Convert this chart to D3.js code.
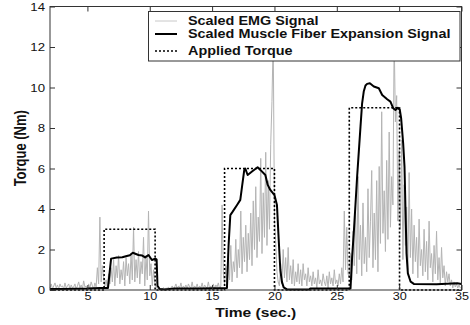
<!DOCTYPE html>
<html>
<head>
<meta charset="utf-8">
<script src="https://cdn.jsdelivr.net/npm/d3@7"></script>
<style>
  body { margin: 0; background: #fff; }
  svg { display: block; }
  text { font-family: "Liberation Sans", Arial, sans-serif; fill: #111; }
</style>
</head>
<body>
<div id="chart"></div>
<script>
// EMG sampled every 0.1 s starting at t = 2 s
const emgStart = 2;
const emgStep = 0.1;
const emgValues = [
  0.1,0.3,0.05,0.2,0.35,0.1,0.25,0.05,0.3,0.15,
  0.2,0.05,0.35,0.1,0.2,0.3,0.05,0.25,0.1,0.15,
  0.3,0.05,0.2,0.4,0.1,0.25,0.05,0.45,0.15,0.2,
  0.05,0.3,0.1,0.4,0.2,0.05,0.35,0.15,1.1,0.3,
  3.6,0.4,1.2,0.6,0.2,0.5,0.1,0.8,0.3,1.1,
  0.4,1.5,0.2,1.2,0.6,1.7,0.3,1.0,0.5,1.4,
  0.2,1.6,0.7,1.3,0.3,1.8,0.5,3.1,0.4,1.5,
  0.6,1.9,0.3,1.4,0.8,2.6,0.2,1.7,0.5,3.9,
  0.7,1.3,0.2,1.0,0.4,0.15,0.05,0.1,0.02,0.08,
  0.05,0.12,0.03,0.1,0.06,0.15,0.04,0.1,0.2,0.05,
  0.15,0.3,0.05,0.2,0.1,0.35,0.05,0.2,0.1,0.25,
  0.05,0.3,0.15,0.1,0.4,0.05,0.2,0.1,0.3,0.05,
  0.2,0.1,0.35,0.05,0.25,0.15,0.1,0.4,0.05,0.2,
  0.1,0.3,0.05,0.25,0.15,0.35,0.05,0.2,4.2,0.8,
  0.3,1.2,0.2,1.8,0.5,2.2,0.4,1.4,0.9,2.5,
  0.6,2.0,1.1,3.9,0.8,2.6,1.4,3.2,0.9,2.8,
  1.5,3.8,1.2,4.4,2.0,5.1,1.6,3.6,2.4,6.5,
  1.8,4.8,2.6,6.8,2.2,5.4,3.0,7.2,9.3,12.5,
  3.5,2.4,0.9,0.4,0.2,1.3,0.3,2.0,0.6,1.6,
  0.4,2.1,0.5,1.2,0.3,1.5,0.2,0.9,0.4,1.3,
  0.3,1.0,0.2,1.3,0.5,0.8,0.2,1.1,0.4,0.7,
  0.2,0.9,0.3,0.6,0.1,1.0,0.3,0.5,0.2,0.8,
  0.4,0.2,0.7,0.1,0.9,0.3,0.6,0.2,1.0,0.3,
  0.5,0.2,0.8,0.3,1.1,0.4,3.9,1.0,3.1,0.8,
  0.6,1.8,0.5,2.9,1.2,4.1,0.8,5.6,1.5,3.2,
  0.7,4.3,1.3,2.6,0.9,5.0,1.6,3.4,5.9,1.1,
  3.8,1.5,5.4,0.9,6.1,2.3,8.8,2.8,4.9,1.9,
  6.4,2.5,7.8,3.1,5.6,4.2,12.5,8.3,9.6,3.4,
  6.9,3.0,7.4,1.5,5.2,2.2,4.1,1.0,5.8,1.6,
  4.0,0.8,3.2,1.4,2.6,0.6,3.5,1.2,2.0,0.7,
  3.0,0.9,2.4,0.5,3.4,1.1,1.8,0.4,2.2,0.8,
  2.9,0.5,1.6,0.3,2.1,0.6,1.2,0.2,0.9,0.4,
  0.8,0.2,0.5,0.1,0.4,0.15,0.3,0.1,0.25,0.1,
  0.15
];

const fiberTimes = [2, 3, 4, 5, 6, 6.65, 6.9, 7.36, 7.8, 8.16, 8.4, 8.64, 9.09, 9.4, 9.63, 9.9, 10.17, 10.45, 10.55, 10.62, 10.8, 11.2, 12,
  14, 16.19, 16.32, 16.46, 16.65, 17.0, 17.26, 17.4, 17.58, 17.66, 17.85, 18.2, 18.65, 18.87, 19.27, 19.46, 19.67, 20.0, 20.2,
  20.34, 20.47, 20.6, 20.74, 21.0, 22.8, 22.9, 26.1, 26.23, 26.36, 26.63, 26.9, 27.03, 27.16, 27.3, 27.43, 27.65, 27.97, 28.37,
  28.64, 29.04, 29.3, 29.52, 29.7, 29.9, 30.05, 30.16, 30.32, 30.43, 30.51, 30.59, 30.7, 30.92, 31.18, 33, 34.66, 35];
const fiberValues = [0.05, 0.05, 0.06, 0.07, 0.1, 0.1, 1.55, 1.6, 1.62, 1.68, 1.72, 1.84, 1.73, 1.7, 1.61, 1.73, 1.48, 1.55, 1.5, 0.2, 0.05, 0.02, 0.08,
  0.08, 0.1, 2.2, 3.7, 3.87, 4.2, 4.45, 5.1, 5.93, 6.0, 5.68, 5.85, 6.06, 5.93, 5.68, 5.19, 4.94, 4.69, 4.2,
  2.5, 1.0, 0.4, 0.13, 0.03, 0.03, 0.08, 0.08, 1.65, 2.8, 5.6, 8.07, 9.22, 9.8, 10.1, 10.18, 10.21, 10.05, 9.96,
  9.63, 9.42, 9.3, 8.98, 8.89, 9.0, 8.9, 8.48, 7.25, 6.09, 3.95, 1.81, 0.82, 0.41, 0.3, 0.28, 0.33, 0.3];

const torqueTimes = [2, 6.34, 6.34, 10.43, 10.43, 16, 16, 20, 20, 26, 26, 30.03, 30.03, 35];
const torqueValues = [0, 0, 3, 3, 0, 0, 6, 6, 0, 0, 9, 9, 0, 0];

const xTicks = [5, 10, 15, 20, 25, 30, 35];
const yTicks = [0, 2, 4, 6, 8, 10, 12, 14];
const legendLabels = ["Scaled EMG Signal", "Scaled Muscle Fiber Expansion Signal", "Applied Torque"];

const W = 470, H = 325;
const margin = { top: 6.5, right: 8.5, bottom: 35, left: 50 };
const sx = 1.2; // the original figure is stretched horizontally

const svg = d3.select("#chart").append("svg").attr("width", W).attr("height", H);

const x = d3.scaleLinear().domain([2, 35]).range([margin.left, W - margin.right]);
const y = d3.scaleLinear().domain([0, 14]).range([H - margin.bottom, margin.top]);

const plot = svg.append("g");

// EMG
const emg = emgValues.map((v, i) => [emgStart + i * emgStep, v]);
const line = d3.line().x(d => x(d[0])).y(d => y(d[1]));
plot.append("path").datum(emg).attr("d", line)
  .attr("fill", "none").attr("stroke", "#b4b4b4").attr("stroke-width", 1);

// muscle fiber
plot.append("path").datum(fiberTimes.map((t, i) => [t, fiberValues[i]])).attr("d", line)
  .attr("fill", "none").attr("stroke", "#000").attr("stroke-width", 2).attr("stroke-linejoin", "round");

// torque
plot.append("path").datum(torqueTimes.map((t, i) => [t, torqueValues[i]])).attr("d", line)
  .attr("fill", "none").attr("stroke", "#000").attr("stroke-width", 1.6).attr("stroke-dasharray", "2,2");

// axes
const bottom = svg.append("g").attr("transform", `translate(0,${H - margin.bottom})`)
  .call(d3.axisBottom(x).tickValues(xTicks).tickSize(-5).tickPadding(3));
const left = svg.append("g").attr("transform", `translate(${margin.left},0)`)
  .call(d3.axisLeft(y).tickValues(yTicks).tickSize(-5).tickPadding(5));
svg.append("g").attr("transform", `translate(0,${margin.top})`)
  .call(d3.axisTop(x).tickValues(xTicks).tickSize(-5).tickFormat(""));
svg.append("g").attr("transform", `translate(${W - margin.right},0)`)
  .call(d3.axisRight(y).tickValues(yTicks).tickSize(-5).tickFormat(""));

svg.selectAll(".domain").remove();
svg.selectAll(".tick line").attr("stroke", "#333");

bottom.selectAll("text").attr("font-size", 10.5).attr("fill", "#111")
  .attr("transform", `scale(${sx},1)`);
left.selectAll("text").attr("font-size", 11).attr("fill", "#111")
  .attr("x", -5 / sx).attr("transform", `scale(${sx},1)`);

svg.append("rect")
  .attr("x", margin.left).attr("y", margin.top)
  .attr("width", W - margin.right - margin.left).attr("height", H - margin.bottom - margin.top)
  .attr("fill", "none").attr("stroke", "#333").attr("stroke-width", 1);

// axis titles
svg.append("text")
  .attr("transform", `translate(${(margin.left + W - margin.right) / 2},317) scale(${sx},1)`)
  .attr("text-anchor", "middle").attr("font-size", 13).attr("font-weight", "bold")
  .text("Time (sec.)");
svg.append("text")
  .attr("transform", `translate(25.5,${(margin.top + H - margin.bottom) / 2}) rotate(-90) scale(1,${sx})`)
  .attr("text-anchor", "middle").attr("font-size", 13).attr("font-weight", "bold")
  .text("Torque (Nm)");

// legend
const lg = svg.append("g");
lg.append("rect").attr("x", 148.5).attr("y", 11.5).attr("width", 311.5).attr("height", 49.5)
  .attr("fill", "#fff").attr("stroke", "#333").attr("stroke-width", 1);
const rowsY = [21, 34, 51];
const styles = [
  { stroke: "#c8c8c8", width: 1, dash: null },
  { stroke: "#000", width: 2, dash: null },
  { stroke: "#000", width: 1.6, dash: "2,2" }
];
legendLabels.forEach((label, i) => {
  lg.append("line").attr("x1", 155).attr("x2", 177).attr("y1", rowsY[i]).attr("y2", rowsY[i])
    .attr("stroke", styles[i].stroke).attr("stroke-width", styles[i].width)
    .attr("stroke-dasharray", styles[i].dash);
  lg.append("text")
    .attr("transform", `translate(188,${rowsY[i] + 4.3}) scale(${sx},1)`)
    .attr("font-size", 12).attr("font-weight", "bold")
    .text(label);
});
</script>
</body>
</html>
